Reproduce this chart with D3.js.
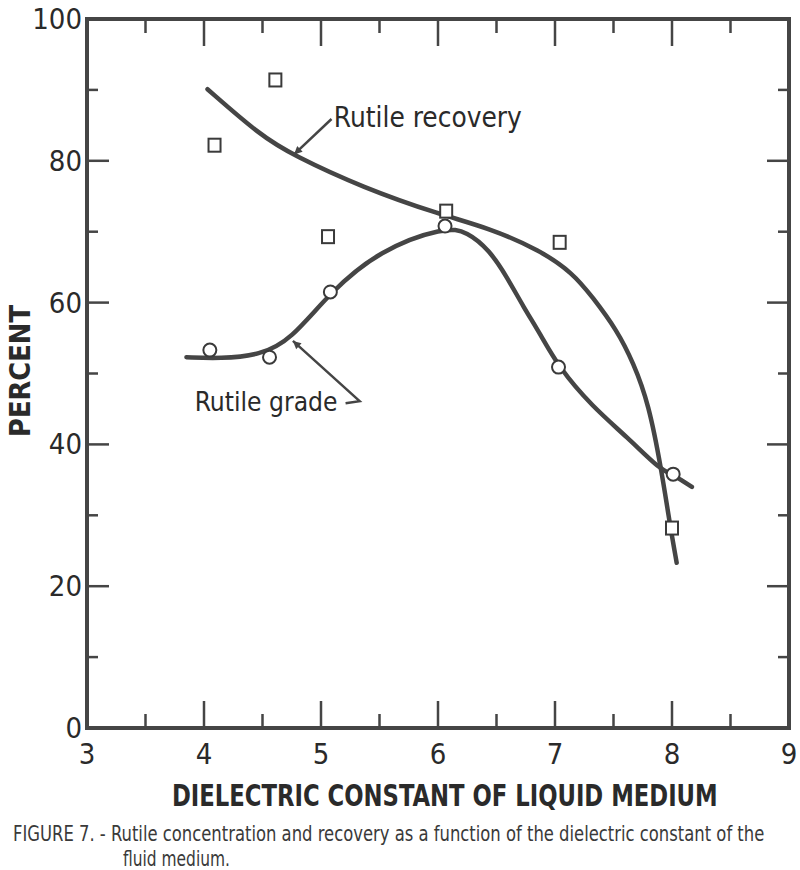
<!DOCTYPE html>
<html>
<head>
<meta charset="utf-8">
<script src="https://cdn.jsdelivr.net/npm/d3@7"></script>
<style>
  html, body { margin: 0; padding: 0; background: #fff; }
  svg { display: block; }
  text { font-family: "DejaVu Sans", sans-serif; font-stretch: condensed; fill: #2a2a2a; }
</style>
</head>
<body>
<svg id="chart" width="800" height="870"></svg>
<script>
// ---------- data ----------
const xTickValues = [3, 4, 5, 6, 7, 8, 9];
const yTickValues = [0, 20, 40, 60, 80, 100];

// measured points
const recoveryX = [4.09, 4.61, 5.06, 6.07, 7.04, 8.00];
const recoveryY = [82.2, 91.4, 69.3, 72.9, 68.5, 28.2];
const gradeX    = [4.05, 4.56, 5.08, 6.06, 7.03, 8.01];
const gradeY    = [53.3, 52.3, 61.5, 70.8, 50.9, 35.8];

// hand-drawn fitted curves (traced)
const recoveryCurveX = [4.03, 4.48, 4.76, 5.36, 6.02, 6.44, 6.87, 7.15, 7.32, 7.53, 7.67, 7.80, 7.91, 7.98, 8.04];
const recoveryCurveY = [90.1, 83.6, 80.8, 76.2, 72.4, 70.5, 67.4, 64.2, 60.8, 56.1, 51.5, 45.8, 36.4, 28.9, 23.3];
const gradeCurveX = [3.85, 4.14, 4.48, 4.74, 5.08, 5.50, 6.06, 6.25, 6.44, 6.59, 6.73, 6.87, 7.03, 7.32, 7.62, 7.90, 8.01, 8.17];
const gradeCurveY = [52.3, 52.1, 52.6, 54.7, 61.5, 67.4, 70.7, 70.0, 67.4, 63.6, 59.4, 55.7, 50.9, 45.3, 41.0, 36.4, 35.7, 34.0];

const labels = {
  yTitle: "PERCENT",
  xTitle: "DIELECTRIC CONSTANT OF LIQUID MEDIUM",
  recovery: "Rutile recovery",
  grade: "Rutile grade",
  caption1: "FIGURE 7. - Rutile concentration and recovery as a function of the dielectric constant of the",
  caption2: "fluid medium."
};

// ---------- layout ----------
const svg = d3.select("#chart");
const ink = "#454545";
const x = d3.scaleLinear().domain([3, 9]).range([87, 789]);
const y = d3.scaleLinear().domain([0, 100]).range([728, 19]);

const g = svg.append("g");

// fit a text horizontally to a target width via transform
function fitText(parent, str, px, py, width, size, opts = {}) {
  const t = parent.append("text")
    .attr("x", 0).attr("y", 0)
    .attr("font-size", size)
    .text(str);
  if (opts.weight) t.attr("font-weight", opts.weight);
  if (opts.fill) t.style("fill", opts.fill);
  const natural = t.node().getComputedTextLength();
  const s = width / natural;
  t.attr("transform", `translate(${px},${py}) scale(${s},1)`);
  return t;
}

// frame
g.append("rect")
  .attr("x", x(3)).attr("y", y(100))
  .attr("width", x(9) - x(3)).attr("height", y(0) - y(100))
  .attr("fill", "none").attr("stroke", ink).attr("stroke-width", 4);

// ticks
const xMinor = d3.range(3.5, 9, 1);
const yMinor = d3.range(10, 100, 20);
function addXTicks(vals, len) {
  vals.forEach(v => {
    g.append("line").attr("x1", x(v)).attr("x2", x(v))
      .attr("y1", y(0)).attr("y2", y(0) - len)
      .attr("stroke", ink).attr("stroke-width", 2.5);
    g.append("line").attr("x1", x(v)).attr("x2", x(v))
      .attr("y1", y(100)).attr("y2", y(100) + len)
      .attr("stroke", ink).attr("stroke-width", 2.5);
  });
}
addXTicks(xTickValues.slice(1, -1), 27);
addXTicks(xMinor, 14);
function addYTicks(vals, len) {
  vals.forEach(v => {
    g.append("line").attr("x1", x(3)).attr("x2", x(3) + len)
      .attr("y1", y(v)).attr("y2", y(v))
      .attr("stroke", ink).attr("stroke-width", 2.5);
    g.append("line").attr("x1", x(9)).attr("x2", x(9) - len)
      .attr("y1", y(v)).attr("y2", y(v))
      .attr("stroke", ink).attr("stroke-width", 2.5);
  });
}
addYTicks(yTickValues.slice(1, -1), 22);
addYTicks(yMinor, 11);

// tick labels
g.selectAll(".xl").data(xTickValues).enter().append("text")
  .attr("x", d => x(d)).attr("y", 764)
  .attr("text-anchor", "middle")
  .attr("font-size", 29)
  .text(d => d);
g.selectAll(".yl").data(yTickValues).enter().append("text")
  .attr("x", 82).attr("y", d => y(d) + 10)
  .attr("text-anchor", "end")
  .attr("font-size", 29)
  .text(d => d);

// axis titles
svg.append("text")
  .attr("transform", "translate(30,371) rotate(-90)")
  .attr("text-anchor", "middle")
  .attr("font-size", 29).attr("font-weight", "bold")
  .attr("textLength", 132).attr("lengthAdjust", "spacingAndGlyphs")
  .text(labels.yTitle);
fitText(svg, labels.xTitle, 172, 806, 546, 31, {weight: "bold"});

// caption
fitText(svg, labels.caption1, 13, 841, 752, 21, {fill: "#3a3a3a"});
fitText(svg, labels.caption2, 123, 866, 107, 21, {fill: "#3a3a3a"});

// curves
const line = d3.line().x(d => x(d[0])).y(d => y(d[1])).curve(d3.curveBasis);
const recCurve = d3.zip(recoveryCurveX, recoveryCurveY);
const grdCurve = d3.zip(gradeCurveX, gradeCurveY);
g.append("path").attr("d", line(recCurve))
  .attr("fill", "none").attr("stroke", ink).attr("stroke-width", 4.5).attr("stroke-linecap", "round");
g.append("path").attr("d", line(grdCurve))
  .attr("fill", "none").attr("stroke", ink).attr("stroke-width", 4.5).attr("stroke-linecap", "round");

// markers
const recPts = d3.zip(recoveryX, recoveryY);
const grdPts = d3.zip(gradeX, gradeY);
g.selectAll(".sq").data(recPts).enter().append("rect")
  .attr("x", d => x(d[0]) - 6).attr("y", d => y(d[1]) - 6.5)
  .attr("width", 12).attr("height", 13)
  .attr("fill", "#fff").attr("stroke", "#3a3a3a").attr("stroke-width", 2);
g.selectAll(".ci").data(grdPts).enter().append("circle")
  .attr("cx", d => x(d[0])).attr("cy", d => y(d[1])).attr("r", 6.5)
  .attr("fill", "#fff").attr("stroke", "#3a3a3a").attr("stroke-width", 2);

// annotations
const arrowDefs = svg.append("defs");
arrowDefs.append("marker").attr("id", "ah")
  .attr("viewBox", "0 0 10 10").attr("refX", 10).attr("refY", 5)
  .attr("orient", "auto")
  .attr("markerUnits", "userSpaceOnUse")
  .attr("markerWidth", 14).attr("markerHeight", 8)
  .append("path").attr("d", "M0,0 L10,5 L0,10 Z").attr("fill", ink);

const recLeader = [[5.09, 85.9], [4.77, 80.9]];
const grdLeader = [[5.21, 45.8], [5.33, 46.1], [4.76, 54.6]];
const straight = d3.line().x(d => x(d[0])).y(d => y(d[1]));
g.append("path").attr("d", straight(recLeader))
  .attr("fill", "none").attr("stroke", ink).attr("stroke-width", 2.5)
  .attr("marker-end", "url(#ah)");
g.append("path").attr("d", straight(grdLeader))
  .attr("fill", "none").attr("stroke", ink).attr("stroke-width", 2.5)
  .attr("marker-end", "url(#ah)");

fitText(g, labels.recovery, x(5.11), y(84.8), 188, 28);
fitText(g, labels.grade, x(3.92), y(44.7), 143, 27);
</script>
</body>
</html>
